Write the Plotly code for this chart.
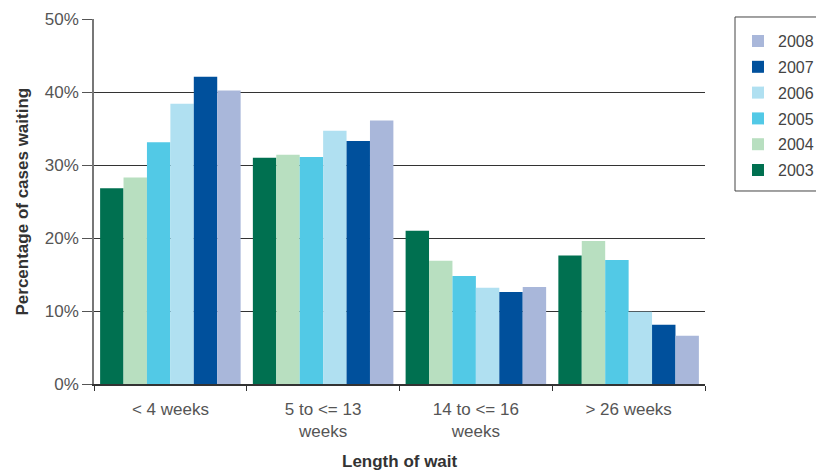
import plotly.graph_objects as go

categories = ["< 4 weeks", "5 to <= 13<br>weeks", "14 to <= 16<br>weeks", "> 26 weeks"]
years = ["2003", "2004", "2005", "2006", "2007", "2008"]
v2003 = [26.8, 31.0, 21.0, 17.6]
v2004 = [28.3, 31.4, 16.9, 19.6]
v2005 = [33.1, 31.1, 14.8, 17.0]
v2006 = [38.4, 34.7, 13.2, 9.9]
v2007 = [42.1, 33.3, 12.6, 8.1]
v2008 = [40.2, 36.1, 13.3, 6.6]
series = [v2003, v2004, v2005, v2006, v2007, v2008]
colors = ["#007050", "#b8dfc0", "#52c9e6", "#b0e0f1", "#00509c", "#a9b7da"]

fig = go.Figure()
for i, (y, vals, c) in enumerate(zip(years, series, colors)):
    fig.add_trace(go.Bar(x=categories, y=vals, name=y, marker_color=c,
                         marker_line_width=0, legendgroup=y,
                         legendrank=100 - i))

font = "Liberation Sans, Arial, sans-serif"
fig.update_layout(
    width=816, height=464,
    margin=dict(l=86, r=119, t=11, b=88, autoexpand=False),
    paper_bgcolor="white", plot_bgcolor="white",
    barmode="group", bargap=0.08, bargroupgap=0,
    font=dict(family=font, size=17, color="#555"),
    showlegend=True,
    legend=dict(x=1.054, y=0.986, xanchor="left", yanchor="top",
                traceorder="grouped", tracegroupgap=2,
                borderwidth=0,
                font=dict(size=16, color="#444"), itemwidth=30),
    xaxis=dict(showline=True, linecolor="#333", linewidth=1.5,
               ticks="outside", tickson="boundaries", ticklen=5,
               tickcolor="#333", tickfont=dict(size=17, color="#555"),
               ticklabelstandoff=9, showgrid=False),
    yaxis=dict(range=[0, 50], dtick=10, ticksuffix="%",
               showline=True, linecolor="#777", linewidth=1.5,
               ticks="outside", ticklen=10, tickcolor="#555",
               tickfont=dict(size=17, color="#555"),
               showgrid=True, gridcolor="#333", gridwidth=1.2,
               zeroline=False),
    shapes=[
        dict(type="rect", xref="paper", yref="paper",
             x0=1.0491, x1=1.3, y0=0.5288, y1=1.0055,
             line=dict(color="#444", width=1), fillcolor="rgba(0,0,0,0)"),
    ],
    annotations=[
        dict(text="<b>Length of wait</b>", xref="paper", yref="paper",
             x=0.5, y=-0.213, yanchor="middle", xanchor="center", showarrow=False,
             font=dict(size=17, color="#333", family=font)),
        dict(text="<b>Percentage of cases waiting</b>", xref="paper", yref="paper",
             x=0, xshift=-72, y=0.5, textangle=-90, xanchor="center", yanchor="middle",
             showarrow=False, font=dict(size=17, color="#333", family=font)),
    ],
)

fig.write_html("out.html")
